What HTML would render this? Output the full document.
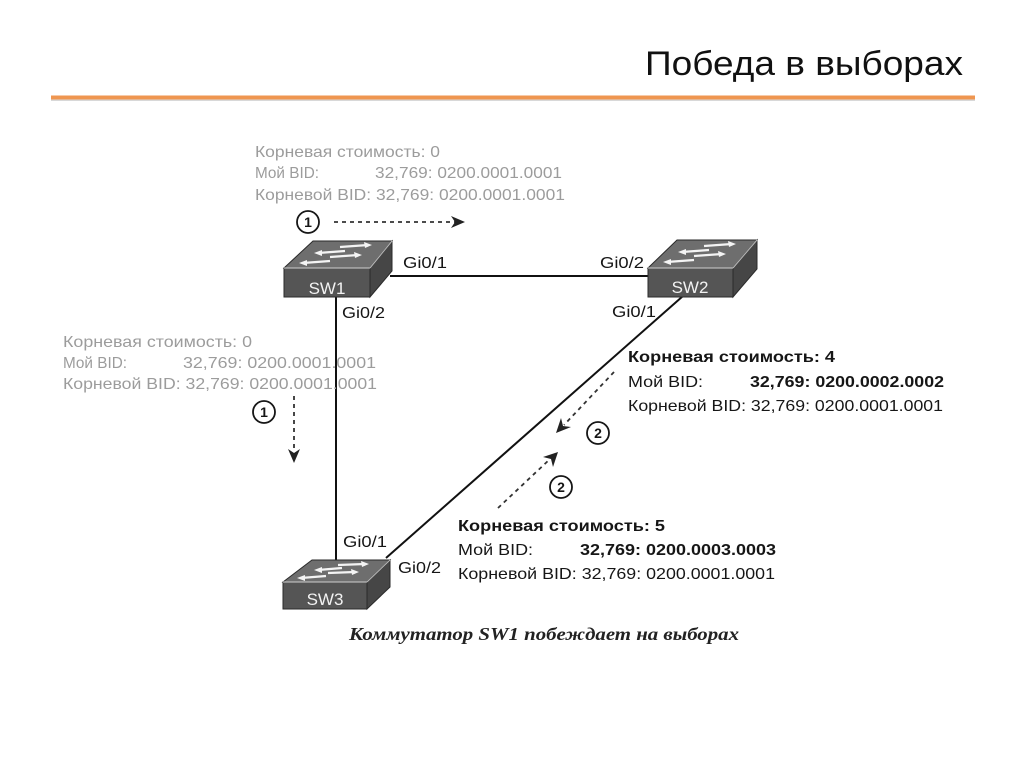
<!DOCTYPE html>
<html>
<head>
<meta charset="utf-8">
<style>
  html, body { margin: 0; padding: 0; background: #ffffff; }
  svg { display: block; }
  .g { font-family: "Liberation Sans", "DejaVu Sans", sans-serif; font-size: 16px; fill: #9c9c9c; }
  .b { font-family: "Liberation Sans", "DejaVu Sans", sans-serif; font-size: 16px; fill: #161616; }
  .bb { font-family: "Liberation Sans", "DejaVu Sans", sans-serif; font-size: 16px; font-weight: bold; fill: #161616; }
  .gi { font-family: "Liberation Sans", "DejaVu Sans", sans-serif; font-size: 16px; fill: #161616; }
  .sw { font-family: "Liberation Sans", "DejaVu Sans", sans-serif; font-size: 17px; fill: #f2f2f2; }
  .num { font-family: "Liberation Sans", "DejaVu Sans", sans-serif; font-size: 14px; font-weight: bold; fill: #161616; }
</style>
</head>
<body>
<svg width="1024" height="767" viewBox="0 0 1024 767" xmlns="http://www.w3.org/2000/svg">
  <rect width="1024" height="767" fill="#ffffff"/>

  <!-- Title -->
  <text x="645" y="75" font-family="'Liberation Sans', 'DejaVu Sans', sans-serif" font-size="34" fill="#111" textLength="318" lengthAdjust="spacingAndGlyphs">Победа в выборах</text>
  <line x1="51" y1="100" x2="975" y2="100" stroke="#d8d8d8" stroke-width="2"/>
  <line x1="51" y1="97.5" x2="975" y2="97.5" stroke="#ef9650" stroke-width="4"/>

  <!-- Links -->
  <line x1="390" y1="276" x2="650" y2="276" stroke="#111" stroke-width="2"/>
  <line x1="336" y1="296" x2="336" y2="584" stroke="#111" stroke-width="2"/>
  <line x1="683" y1="296" x2="386" y2="558" stroke="#111" stroke-width="2"/>

  <!-- SW1 -->
  <g>
    <polygon points="284,268 313,241 392,241 370,268" fill="#6e6e6e" stroke="#2a2a2a" stroke-width="1"/>
    <polygon points="284,268 370,268 370,297 284,297" fill="#555" stroke="#2a2a2a" stroke-width="1"/>
    <polygon points="370,268 392,241 392,271 370,297" fill="#464646" stroke="#2a2a2a" stroke-width="1"/>
    <line x1="284" y1="268" x2="370" y2="268" stroke="#cfcfcf" stroke-width="1"/>
    <line x1="370" y1="268" x2="392" y2="241" stroke="#bbb" stroke-width="1"/>
    <path d="M340 247 L368 245" stroke="#f4f4f4" stroke-width="2.2"/><path d="M372 245 L364 242 L365 248 Z" fill="#f4f4f4"/>
    <path d="M345 251 L318 253" stroke="#f4f4f4" stroke-width="2.2"/><path d="M314 253 L322 250 L322 256 Z" fill="#f4f4f4"/>
    <path d="M330 257 L358 255" stroke="#f4f4f4" stroke-width="2.2"/><path d="M362 255 L354 252 L355 258 Z" fill="#f4f4f4"/>
    <path d="M330 261 L303 263" stroke="#f4f4f4" stroke-width="2.2"/><path d="M299 263 L307 260 L307 266 Z" fill="#f4f4f4"/>
    <text x="327" y="294" class="sw" text-anchor="middle">SW1</text>
  </g>

  <!-- SW2 -->
  <g>
    <polygon points="648,268 677,240 757,240 733,268" fill="#6e6e6e" stroke="#2a2a2a" stroke-width="1"/>
    <polygon points="648,268 733,268 733,297 648,297" fill="#555" stroke="#2a2a2a" stroke-width="1"/>
    <polygon points="733,268 757,240 757,269 733,297" fill="#464646" stroke="#2a2a2a" stroke-width="1"/>
    <line x1="648" y1="268" x2="733" y2="268" stroke="#cfcfcf" stroke-width="1"/>
    <line x1="733" y1="268" x2="757" y2="240" stroke="#bbb" stroke-width="1"/>
    <path d="M704 246 L732 244" stroke="#f4f4f4" stroke-width="2.2"/><path d="M736 244 L728 241 L729 247 Z" fill="#f4f4f4"/>
    <path d="M709 250 L682 252" stroke="#f4f4f4" stroke-width="2.2"/><path d="M678 252 L686 249 L686 255 Z" fill="#f4f4f4"/>
    <path d="M694 256 L722 254" stroke="#f4f4f4" stroke-width="2.2"/><path d="M726 254 L718 251 L719 257 Z" fill="#f4f4f4"/>
    <path d="M694 260 L667 262" stroke="#f4f4f4" stroke-width="2.2"/><path d="M663 262 L671 259 L671 265 Z" fill="#f4f4f4"/>
    <text x="690" y="293" class="sw" text-anchor="middle">SW2</text>
  </g>

  <!-- SW3 -->
  <g>
    <polygon points="283,582 312,560 390,560 367,582" fill="#6e6e6e" stroke="#2a2a2a" stroke-width="1"/>
    <polygon points="283,582 367,582 367,609 283,609" fill="#555" stroke="#2a2a2a" stroke-width="1"/>
    <polygon points="367,582 390,560 390,587 367,609" fill="#464646" stroke="#2a2a2a" stroke-width="1"/>
    <line x1="283" y1="582" x2="367" y2="582" stroke="#cfcfcf" stroke-width="1"/>
    <line x1="367" y1="582" x2="390" y2="560" stroke="#bbb" stroke-width="1"/>
    <path d="M338 565 L365 564" stroke="#f4f4f4" stroke-width="2.2"/><path d="M369 564 L361 561 L362 567 Z" fill="#f4f4f4"/>
    <path d="M342 568 L318 570" stroke="#f4f4f4" stroke-width="2.2"/><path d="M314 570 L322 567 L322 573 Z" fill="#f4f4f4"/>
    <path d="M328 573 L355 572" stroke="#f4f4f4" stroke-width="2.2"/><path d="M359 572 L351 569 L352 575 Z" fill="#f4f4f4"/>
    <path d="M326 576 L301 578" stroke="#f4f4f4" stroke-width="2.2"/><path d="M297 578 L305 575 L305 581 Z" fill="#f4f4f4"/>
    <text x="325" y="605" class="sw" text-anchor="middle">SW3</text>
  </g>

  <!-- Port labels -->
  <text x="403" y="268" class="gi" textLength="44" lengthAdjust="spacingAndGlyphs">Gi0/1</text>
  <text x="600" y="268" class="gi" textLength="44" lengthAdjust="spacingAndGlyphs">Gi0/2</text>
  <text x="342" y="318" class="gi" textLength="43" lengthAdjust="spacingAndGlyphs">Gi0/2</text>
  <text x="612" y="317" class="gi" textLength="44" lengthAdjust="spacingAndGlyphs">Gi0/1</text>
  <text x="343" y="547" class="gi" textLength="44" lengthAdjust="spacingAndGlyphs">Gi0/1</text>
  <text x="398" y="573" class="gi" textLength="43" lengthAdjust="spacingAndGlyphs">Gi0/2</text>

  <!-- Top gray block -->
  <text x="255" y="157" class="g" textLength="185" lengthAdjust="spacingAndGlyphs">Корневая стоимость: 0</text>
  <text x="255" y="178" class="g" textLength="64" lengthAdjust="spacingAndGlyphs">Мой BID:</text>
  <text x="375" y="178" class="g" textLength="187" lengthAdjust="spacingAndGlyphs">32,769: 0200.0001.0001</text>
  <text x="255" y="200" class="g" textLength="310" lengthAdjust="spacingAndGlyphs">Корневой BID: 32,769: 0200.0001.0001</text>

  <!-- Left gray block -->
  <text x="63" y="347" class="g" textLength="189" lengthAdjust="spacingAndGlyphs">Корневая стоимость: 0</text>
  <text x="63" y="368" class="g" textLength="64" lengthAdjust="spacingAndGlyphs">Мой BID:</text>
  <text x="183" y="368" class="g" textLength="193" lengthAdjust="spacingAndGlyphs">32,769: 0200.0001.0001</text>
  <text x="63" y="389" class="g" textLength="314" lengthAdjust="spacingAndGlyphs">Корневой BID: 32,769: 0200.0001.0001</text>

  <!-- Right bold block -->
  <text x="628" y="362" class="bb" textLength="207" lengthAdjust="spacingAndGlyphs">Корневая стоимость: 4</text>
  <text x="628" y="387" class="b" textLength="75" lengthAdjust="spacingAndGlyphs">Мой BID:</text>
  <text x="750" y="387" class="bb" textLength="194" lengthAdjust="spacingAndGlyphs">32,769: 0200.0002.0002</text>
  <text x="628" y="411" class="b" textLength="315" lengthAdjust="spacingAndGlyphs">Корневой BID: 32,769: 0200.0001.0001</text>

  <!-- Bottom bold block -->
  <text x="458" y="531" class="bb" textLength="207" lengthAdjust="spacingAndGlyphs">Корневая стоимость: 5</text>
  <text x="458" y="555" class="b" textLength="75" lengthAdjust="spacingAndGlyphs">Мой BID:</text>
  <text x="580" y="555" class="bb" textLength="196" lengthAdjust="spacingAndGlyphs">32,769: 0200.0003.0003</text>
  <text x="458" y="579" class="b" textLength="317" lengthAdjust="spacingAndGlyphs">Корневой BID: 32,769: 0200.0001.0001</text>

  <!-- Circles -->
  <g fill="#fff" stroke="#161616" stroke-width="1.8">
    <circle cx="308" cy="222" r="11"/>
    <circle cx="264" cy="412" r="11"/>
    <circle cx="598" cy="433" r="11"/>
    <circle cx="561" cy="487" r="11"/>
  </g>
  <text x="308" y="227" class="num" text-anchor="middle">1</text>
  <text x="264" y="417" class="num" text-anchor="middle">1</text>
  <text x="598" y="438" class="num" text-anchor="middle">2</text>
  <text x="561" y="492" class="num" text-anchor="middle">2</text>

  <!-- Dashed arrows -->
  <g stroke="#333" stroke-width="1.8" stroke-dasharray="4,4" fill="none">
    <line x1="334" y1="222" x2="455" y2="222"/>
    <line x1="294" y1="396" x2="294" y2="452"/>
    <line x1="614" y1="372" x2="564" y2="425"/>
    <line x1="498" y1="508" x2="550" y2="459"/>
  </g>
  <g fill="#222">
    <polygon points="465,222 451,216 455,222 451,228"/>
    <polygon points="294,463 288,449 294,453 300,449"/>
    <polygon points="556,433 561,418 563,426 571,427"/>
    <polygon points="558,452 543,457 551,459 553,467"/>
  </g>

  <!-- Caption -->
  <text x="349" y="640" font-family="'Liberation Serif', 'DejaVu Serif', serif" font-size="18" font-style="italic" font-weight="bold" fill="#222" textLength="390" lengthAdjust="spacingAndGlyphs">Коммутатор SW1 побеждает на выборах</text>
</svg>
</body>
</html>
